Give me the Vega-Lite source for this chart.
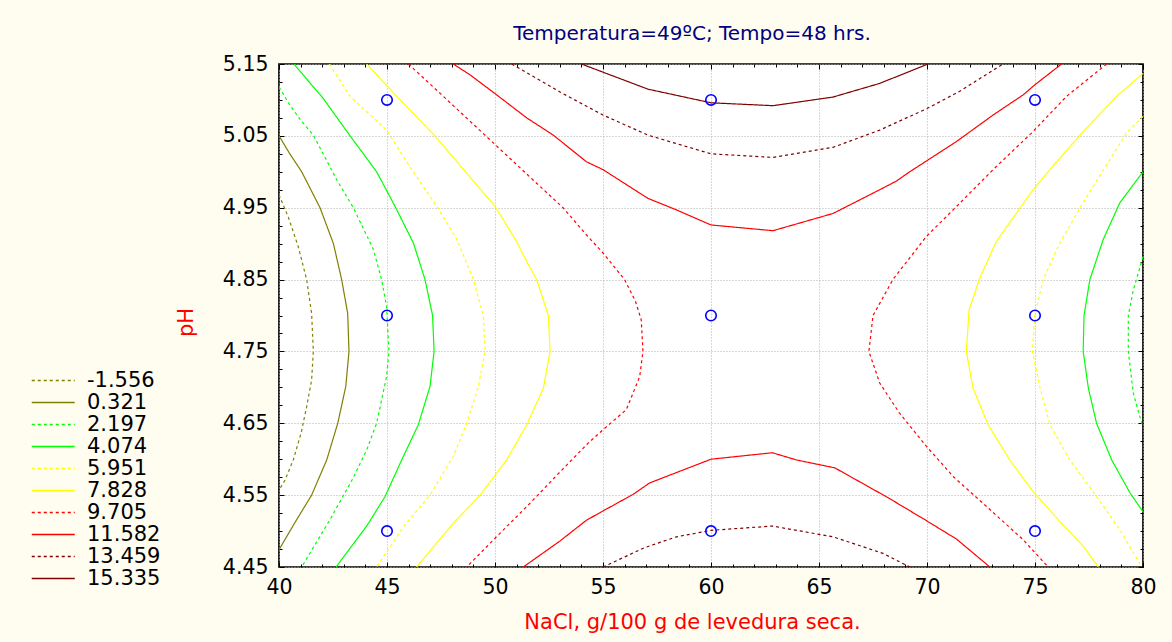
{
 "$schema": "https://vega.github.io/schema/vega-lite/v6.json",
 "width": 864, "height": 503,
 "autosize": {"type": "none"},
 "padding": {"left": 279, "top": 64, "right": 29, "bottom": 75},
 "background": "#fffdf0",
 "config": {
  "view": {"fill": "white", "stroke": "black", "strokeWidth": 1.7},
  "font": "DejaVu Sans",
  "axis": {"labelFont": "DejaVu Sans", "titleFont": "DejaVu Sans", "tickColor": "black", "tickWidth": 1, "labelColor": "black"}
 },
 "title": {"text": "Temperatura=49ºC; Tempo=48 hrs.", "color": "#000080", "font": "DejaVu Sans", "fontSize": 20, "fontWeight": "normal", "anchor": "middle", "dx": -19, "dy": 32, "offset": 26, "baseline": "alphabetic"},
 "datasets": {
  "pts": [
   {"x": 45, "y": 5.1}, {"x": 60, "y": 5.1}, {"x": 75, "y": 5.1},
   {"x": 45, "y": 4.8}, {"x": 60, "y": 4.8}, {"x": 75, "y": 4.8},
   {"x": 45, "y": 4.5}, {"x": 60, "y": 4.5}, {"x": 75, "y": 4.5}
  ],
  "contours": [
   {"c": "L1", "lv": "-1.556", "o": 1, "x": 40, "y": 4.968},
   {"c": "L1", "lv": "-1.556", "o": 2, "x": 40.43, "y": 4.937},
   {"c": "L1", "lv": "-1.556", "o": 3, "x": 40.89, "y": 4.896},
   {"c": "L1", "lv": "-1.556", "o": 4, "x": 41.28, "y": 4.85},
   {"c": "L1", "lv": "-1.556", "o": 5, "x": 41.51, "y": 4.803},
   {"c": "L1", "lv": "-1.556", "o": 6, "x": 41.59, "y": 4.75},
   {"c": "L1", "lv": "-1.556", "o": 7, "x": 41.51, "y": 4.71},
   {"c": "L1", "lv": "-1.556", "o": 8, "x": 41.28, "y": 4.673},
   {"c": "L1", "lv": "-1.556", "o": 9, "x": 41.02, "y": 4.636},
   {"c": "L1", "lv": "-1.556", "o": 10, "x": 40.66, "y": 4.599},
   {"c": "L1", "lv": "-1.556", "o": 11, "x": 40.28, "y": 4.571},
   {"c": "L1", "lv": "-1.556", "o": 12, "x": 40, "y": 4.557},

   {"c": "L2", "lv": "0.321", "o": 1, "x": 40, "y": 5.05},
   {"c": "L2", "lv": "0.321", "o": 2, "x": 40.5, "y": 5.025},
   {"c": "L2", "lv": "0.321", "o": 3, "x": 41.05, "y": 5.0},
   {"c": "L2", "lv": "0.321", "o": 4, "x": 41.9, "y": 4.95},
   {"c": "L2", "lv": "0.321", "o": 5, "x": 42.52, "y": 4.9},
   {"c": "L2", "lv": "0.321", "o": 6, "x": 42.9, "y": 4.85},
   {"c": "L2", "lv": "0.321", "o": 7, "x": 43.18, "y": 4.803},
   {"c": "L2", "lv": "0.321", "o": 8, "x": 43.24, "y": 4.75},
   {"c": "L2", "lv": "0.321", "o": 9, "x": 43.09, "y": 4.701},
   {"c": "L2", "lv": "0.321", "o": 10, "x": 42.72, "y": 4.65},
   {"c": "L2", "lv": "0.321", "o": 11, "x": 42.21, "y": 4.599},
   {"c": "L2", "lv": "0.321", "o": 12, "x": 41.51, "y": 4.55},
   {"c": "L2", "lv": "0.321", "o": 13, "x": 40.74, "y": 4.512},
   {"c": "L2", "lv": "0.321", "o": 14, "x": 40, "y": 4.474},

   {"c": "L3", "lv": "2.197", "o": 1, "x": 40, "y": 5.118},
   {"c": "L3", "lv": "2.197", "o": 2, "x": 40.5, "y": 5.093},
   {"c": "L3", "lv": "2.197", "o": 3, "x": 41.0, "y": 5.072},
   {"c": "L3", "lv": "2.197", "o": 4, "x": 41.59, "y": 5.051},
   {"c": "L3", "lv": "2.197", "o": 5, "x": 42.67, "y": 4.989},
   {"c": "L3", "lv": "2.197", "o": 6, "x": 43.44, "y": 4.95},
   {"c": "L3", "lv": "2.197", "o": 7, "x": 44.37, "y": 4.892},
   {"c": "L3", "lv": "2.197", "o": 8, "x": 44.75, "y": 4.85},
   {"c": "L3", "lv": "2.197", "o": 9, "x": 44.98, "y": 4.813},
   {"c": "L3", "lv": "2.197", "o": 10, "x": 45.09, "y": 4.75},
   {"c": "L3", "lv": "2.197", "o": 11, "x": 44.98, "y": 4.715},
   {"c": "L3", "lv": "2.197", "o": 12, "x": 44.52, "y": 4.65},
   {"c": "L3", "lv": "2.197", "o": 13, "x": 44.06, "y": 4.613},
   {"c": "L3", "lv": "2.197", "o": 14, "x": 43.4, "y": 4.572},
   {"c": "L3", "lv": "2.197", "o": 15, "x": 42.36, "y": 4.516},
   {"c": "L3", "lv": "2.197", "o": 16, "x": 41.05, "y": 4.45},

   {"c": "L4", "lv": "4.074", "o": 1, "x": 40.69, "y": 5.15},
   {"c": "L4", "lv": "4.074", "o": 2, "x": 42.05, "y": 5.102},
   {"c": "L4", "lv": "4.074", "o": 3, "x": 43.29, "y": 5.05},
   {"c": "L4", "lv": "4.074", "o": 4, "x": 44.52, "y": 5.0},
   {"c": "L4", "lv": "4.074", "o": 5, "x": 45.37, "y": 4.952},
   {"c": "L4", "lv": "4.074", "o": 6, "x": 46.22, "y": 4.901},
   {"c": "L4", "lv": "4.074", "o": 7, "x": 46.76, "y": 4.85},
   {"c": "L4", "lv": "4.074", "o": 8, "x": 47.11, "y": 4.8},
   {"c": "L4", "lv": "4.074", "o": 9, "x": 47.18, "y": 4.75},
   {"c": "L4", "lv": "4.074", "o": 10, "x": 46.99, "y": 4.701},
   {"c": "L4", "lv": "4.074", "o": 11, "x": 46.45, "y": 4.648},
   {"c": "L4", "lv": "4.074", "o": 12, "x": 45.68, "y": 4.599},
   {"c": "L4", "lv": "4.074", "o": 13, "x": 44.91, "y": 4.548},
   {"c": "L4", "lv": "4.074", "o": 14, "x": 44.06, "y": 4.507},
   {"c": "L4", "lv": "4.074", "o": 15, "x": 42.64, "y": 4.45},

   {"c": "L5", "lv": "5.951", "o": 1, "x": 42.33, "y": 5.15},
   {"c": "L5", "lv": "5.951", "o": 2, "x": 43.29, "y": 5.105},
   {"c": "L5", "lv": "5.951", "o": 3, "x": 44.98, "y": 5.058},
   {"c": "L5", "lv": "5.951", "o": 4, "x": 46.06, "y": 5.007},
   {"c": "L5", "lv": "5.951", "o": 5, "x": 47.3, "y": 4.952},
   {"c": "L5", "lv": "5.951", "o": 6, "x": 48.23, "y": 4.906},
   {"c": "L5", "lv": "5.951", "o": 7, "x": 49.0, "y": 4.85},
   {"c": "L5", "lv": "5.951", "o": 8, "x": 49.46, "y": 4.8},
   {"c": "L5", "lv": "5.951", "o": 9, "x": 49.54, "y": 4.75},
   {"c": "L5", "lv": "5.951", "o": 10, "x": 49.23, "y": 4.701},
   {"c": "L5", "lv": "5.951", "o": 11, "x": 48.69, "y": 4.65},
   {"c": "L5", "lv": "5.951", "o": 12, "x": 48.07, "y": 4.604},
   {"c": "L5", "lv": "5.951", "o": 13, "x": 46.99, "y": 4.55},
   {"c": "L5", "lv": "5.951", "o": 14, "x": 45.76, "y": 4.506},
   {"c": "L5", "lv": "5.951", "o": 15, "x": 44.52, "y": 4.45},

   {"c": "L6", "lv": "7.828", "o": 1, "x": 44.06, "y": 5.15},
   {"c": "L6", "lv": "7.828", "o": 2, "x": 45.45, "y": 5.105},
   {"c": "L6", "lv": "7.828", "o": 3, "x": 47.22, "y": 5.05},
   {"c": "L6", "lv": "7.828", "o": 4, "x": 48.69, "y": 4.998},
   {"c": "L6", "lv": "7.828", "o": 5, "x": 50.0, "y": 4.952},
   {"c": "L6", "lv": "7.828", "o": 6, "x": 51.0, "y": 4.903},
   {"c": "L6", "lv": "7.828", "o": 7, "x": 51.47, "y": 4.875},
   {"c": "L6", "lv": "7.828", "o": 8, "x": 51.93, "y": 4.85},
   {"c": "L6", "lv": "7.828", "o": 9, "x": 52.47, "y": 4.8},
   {"c": "L6", "lv": "7.828", "o": 10, "x": 52.55, "y": 4.75},
   {"c": "L6", "lv": "7.828", "o": 11, "x": 52.24, "y": 4.699},
   {"c": "L6", "lv": "7.828", "o": 12, "x": 51.47, "y": 4.648},
   {"c": "L6", "lv": "7.828", "o": 13, "x": 50.54, "y": 4.599},
   {"c": "L6", "lv": "7.828", "o": 14, "x": 49.31, "y": 4.55},
   {"c": "L6", "lv": "7.828", "o": 15, "x": 48.07, "y": 4.511},
   {"c": "L6", "lv": "7.828", "o": 16, "x": 46.37, "y": 4.45},

   {"c": "L7", "lv": "9.705", "o": 1, "x": 45.99, "y": 5.15},
   {"c": "L7", "lv": "9.705", "o": 2, "x": 47.5, "y": 5.108},
   {"c": "L7", "lv": "9.705", "o": 3, "x": 49.0, "y": 5.066},
   {"c": "L7", "lv": "9.705", "o": 4, "x": 50.5, "y": 5.024},
   {"c": "L7", "lv": "9.705", "o": 5, "x": 52.0, "y": 4.982},
   {"c": "L7", "lv": "9.705", "o": 6, "x": 53.15, "y": 4.95},
   {"c": "L7", "lv": "9.705", "o": 7, "x": 54.24, "y": 4.912},
   {"c": "L7", "lv": "9.705", "o": 8, "x": 55.0, "y": 4.887},
   {"c": "L7", "lv": "9.705", "o": 9, "x": 56.0, "y": 4.85},
   {"c": "L7", "lv": "9.705", "o": 10, "x": 56.5, "y": 4.82},
   {"c": "L7", "lv": "9.705", "o": 11, "x": 56.77, "y": 4.794},
   {"c": "L7", "lv": "9.705", "o": 12, "x": 56.85, "y": 4.75},
   {"c": "L7", "lv": "9.705", "o": 13, "x": 56.7, "y": 4.715},
   {"c": "L7", "lv": "9.705", "o": 14, "x": 56.08, "y": 4.669},
   {"c": "L7", "lv": "9.705", "o": 15, "x": 55.0, "y": 4.641},
   {"c": "L7", "lv": "9.705", "o": 16, "x": 54.3, "y": 4.622},
   {"c": "L7", "lv": "9.705", "o": 17, "x": 53.0, "y": 4.582},
   {"c": "L7", "lv": "9.705", "o": 18, "x": 51.5, "y": 4.535},
   {"c": "L7", "lv": "9.705", "o": 19, "x": 50.0, "y": 4.49},
   {"c": "L7", "lv": "9.705", "o": 20, "x": 48.69, "y": 4.45},

   {"c": "L8", "lv": "11.582", "o": 1, "x": 48.07, "y": 5.15},
   {"c": "L8", "lv": "11.582", "o": 2, "x": 48.84, "y": 5.135},
   {"c": "L8", "lv": "11.582", "o": 3, "x": 50.08, "y": 5.107},
   {"c": "L8", "lv": "11.582", "o": 4, "x": 51.47, "y": 5.075},
   {"c": "L8", "lv": "11.582", "o": 5, "x": 52.7, "y": 5.051},
   {"c": "L8", "lv": "11.582", "o": 6, "x": 54.23, "y": 5.014},
   {"c": "L8", "lv": "11.582", "o": 7, "x": 55.0, "y": 5.003},
   {"c": "L8", "lv": "11.582", "o": 8, "x": 57.08, "y": 4.963},
   {"c": "L8", "lv": "11.582", "o": 9, "x": 58.4, "y": 4.947},
   {"c": "L8", "lv": "11.582", "o": 10, "x": 60.0, "y": 4.926},
   {"c": "L8", "lv": "11.582", "o": 11, "x": 62.87, "y": 4.918},
   {"c": "L8", "lv": "11.582", "o": 12, "x": 65.65, "y": 4.942},
   {"c": "L8", "lv": "11.582", "o": 13, "x": 67.81, "y": 4.975},
   {"c": "L8", "lv": "11.582", "o": 14, "x": 68.58, "y": 4.987},
   {"c": "L8", "lv": "11.582", "o": 15, "x": 69.2, "y": 5.0},
   {"c": "L8", "lv": "11.582", "o": 16, "x": 71.36, "y": 5.042},
   {"c": "L8", "lv": "11.582", "o": 17, "x": 73.06, "y": 5.079},
   {"c": "L8", "lv": "11.582", "o": 18, "x": 74.45, "y": 5.107},
   {"c": "L8", "lv": "11.582", "o": 19, "x": 74.99, "y": 5.121},
   {"c": "L8", "lv": "11.582", "o": 20, "x": 76.23, "y": 5.15},

   {"c": "L9", "lv": "13.459", "o": 1, "x": 50.77, "y": 5.15},
   {"c": "L9", "lv": "13.459", "o": 2, "x": 51.93, "y": 5.13},
   {"c": "L9", "lv": "13.459", "o": 3, "x": 53.01, "y": 5.111},
   {"c": "L9", "lv": "13.459", "o": 4, "x": 55.0, "y": 5.079},
   {"c": "L9", "lv": "13.459", "o": 5, "x": 57.08, "y": 5.051},
   {"c": "L9", "lv": "13.459", "o": 6, "x": 60.0, "y": 5.025},
   {"c": "L9", "lv": "13.459", "o": 7, "x": 62.87, "y": 5.02},
   {"c": "L9", "lv": "13.459", "o": 8, "x": 65.65, "y": 5.034},
   {"c": "L9", "lv": "13.459", "o": 9, "x": 67.81, "y": 5.058},
   {"c": "L9", "lv": "13.459", "o": 10, "x": 70.0, "y": 5.088},
   {"c": "L9", "lv": "13.459", "o": 11, "x": 71.51, "y": 5.112},
   {"c": "L9", "lv": "13.459", "o": 12, "x": 73.52, "y": 5.15},

   {"c": "L10", "lv": "15.335", "o": 1, "x": 54.0, "y": 5.15},
   {"c": "L10", "lv": "15.335", "o": 2, "x": 57.08, "y": 5.115},
   {"c": "L10", "lv": "15.335", "o": 3, "x": 60.0, "y": 5.096},
   {"c": "L10", "lv": "15.335", "o": 4, "x": 62.87, "y": 5.092},
   {"c": "L10", "lv": "15.335", "o": 5, "x": 65.65, "y": 5.104},
   {"c": "L10", "lv": "15.335", "o": 6, "x": 67.81, "y": 5.123},
   {"c": "L10", "lv": "15.335", "o": 7, "x": 70.05, "y": 5.15},

   {"c": "L11", "lv": "11.582", "o": 1, "x": 51.31, "y": 4.45},
   {"c": "L11", "lv": "11.582", "o": 2, "x": 53.0, "y": 4.486},
   {"c": "L11", "lv": "11.582", "o": 3, "x": 54.23, "y": 4.515},
   {"c": "L11", "lv": "11.582", "o": 4, "x": 55.0, "y": 4.528},
   {"c": "L11", "lv": "11.582", "o": 5, "x": 56.39, "y": 4.551},
   {"c": "L11", "lv": "11.582", "o": 6, "x": 57.16, "y": 4.567},
   {"c": "L11", "lv": "11.582", "o": 7, "x": 60.0, "y": 4.6},
   {"c": "L11", "lv": "11.582", "o": 8, "x": 62.84, "y": 4.609},
   {"c": "L11", "lv": "11.582", "o": 9, "x": 63.95, "y": 4.599},
   {"c": "L11", "lv": "11.582", "o": 10, "x": 65.73, "y": 4.588},
   {"c": "L11", "lv": "11.582", "o": 11, "x": 67.81, "y": 4.553},
   {"c": "L11", "lv": "11.582", "o": 12, "x": 68.5, "y": 4.541},
   {"c": "L11", "lv": "11.582", "o": 13, "x": 70.0, "y": 4.514},
   {"c": "L11", "lv": "11.582", "o": 14, "x": 71.36, "y": 4.489},
   {"c": "L11", "lv": "11.582", "o": 15, "x": 72.91, "y": 4.45},

   {"c": "L12", "lv": "13.459", "o": 1, "x": 55.0, "y": 4.45},
   {"c": "L12", "lv": "13.459", "o": 2, "x": 56.93, "y": 4.477},
   {"c": "L12", "lv": "13.459", "o": 3, "x": 58.4, "y": 4.492},
   {"c": "L12", "lv": "13.459", "o": 4, "x": 60.0, "y": 4.501},
   {"c": "L12", "lv": "13.459", "o": 5, "x": 62.84, "y": 4.507},
   {"c": "L12", "lv": "13.459", "o": 6, "x": 65.65, "y": 4.492},
   {"c": "L12", "lv": "13.459", "o": 7, "x": 67.96, "y": 4.469},
   {"c": "L12", "lv": "13.459", "o": 8, "x": 69.2, "y": 4.45},

   {"c": "L13", "lv": "9.705", "o": 1, "x": 78.32, "y": 5.15},
   {"c": "L13", "lv": "9.705", "o": 2, "x": 76.46, "y": 5.105},
   {"c": "L13", "lv": "9.705", "o": 3, "x": 74.91, "y": 5.056},
   {"c": "L13", "lv": "9.705", "o": 4, "x": 73.06, "y": 5.003},
   {"c": "L13", "lv": "9.705", "o": 5, "x": 71.51, "y": 4.956},
   {"c": "L13", "lv": "9.705", "o": 6, "x": 69.97, "y": 4.91},
   {"c": "L13", "lv": "9.705", "o": 7, "x": 68.42, "y": 4.85},
   {"c": "L13", "lv": "9.705", "o": 8, "x": 67.5, "y": 4.8},
   {"c": "L13", "lv": "9.705", "o": 9, "x": 67.31, "y": 4.75},
   {"c": "L13", "lv": "9.705", "o": 10, "x": 67.81, "y": 4.706},
   {"c": "L13", "lv": "9.705", "o": 11, "x": 68.73, "y": 4.664},
   {"c": "L13", "lv": "9.705", "o": 12, "x": 69.97, "y": 4.618},
   {"c": "L13", "lv": "9.705", "o": 13, "x": 71.21, "y": 4.576},
   {"c": "L13", "lv": "9.705", "o": 14, "x": 72.91, "y": 4.53},
   {"c": "L13", "lv": "9.705", "o": 15, "x": 74.45, "y": 4.488},
   {"c": "L13", "lv": "9.705", "o": 16, "x": 75.61, "y": 4.45},

   {"c": "L14", "lv": "7.828", "o": 1, "x": 80, "y": 5.137},
   {"c": "L14", "lv": "7.828", "o": 2, "x": 78.78, "y": 5.105},
   {"c": "L14", "lv": "7.828", "o": 3, "x": 77.23, "y": 5.056},
   {"c": "L14", "lv": "7.828", "o": 4, "x": 75.69, "y": 5.003},
   {"c": "L14", "lv": "7.828", "o": 5, "x": 74.91, "y": 4.975},
   {"c": "L14", "lv": "7.828", "o": 6, "x": 73.21, "y": 4.903},
   {"c": "L14", "lv": "7.828", "o": 7, "x": 72.44, "y": 4.852},
   {"c": "L14", "lv": "7.828", "o": 8, "x": 71.95, "y": 4.808},
   {"c": "L14", "lv": "7.828", "o": 9, "x": 71.82, "y": 4.75},
   {"c": "L14", "lv": "7.828", "o": 10, "x": 72.13, "y": 4.699},
   {"c": "L14", "lv": "7.828", "o": 11, "x": 72.83, "y": 4.648},
   {"c": "L14", "lv": "7.828", "o": 12, "x": 73.83, "y": 4.599},
   {"c": "L14", "lv": "7.828", "o": 13, "x": 74.91, "y": 4.555},
   {"c": "L14", "lv": "7.828", "o": 14, "x": 76.07, "y": 4.516},
   {"c": "L14", "lv": "7.828", "o": 15, "x": 77.23, "y": 4.479},
   {"c": "L14", "lv": "7.828", "o": 16, "x": 77.93, "y": 4.45},

   {"c": "L15", "lv": "5.951", "o": 1, "x": 80, "y": 5.077},
   {"c": "L15", "lv": "5.951", "o": 2, "x": 79.24, "y": 5.054},
   {"c": "L15", "lv": "5.951", "o": 3, "x": 78.47, "y": 5.017},
   {"c": "L15", "lv": "5.951", "o": 4, "x": 77.23, "y": 4.957},
   {"c": "L15", "lv": "5.951", "o": 5, "x": 76.15, "y": 4.901},
   {"c": "L15", "lv": "5.951", "o": 6, "x": 75.38, "y": 4.85},
   {"c": "L15", "lv": "5.951", "o": 7, "x": 74.99, "y": 4.8},
   {"c": "L15", "lv": "5.951", "o": 8, "x": 74.88, "y": 4.75},
   {"c": "L15", "lv": "5.951", "o": 9, "x": 75.22, "y": 4.701},
   {"c": "L15", "lv": "5.951", "o": 10, "x": 75.69, "y": 4.648},
   {"c": "L15", "lv": "5.951", "o": 11, "x": 76.61, "y": 4.599},
   {"c": "L15", "lv": "5.951", "o": 12, "x": 77.85, "y": 4.548},
   {"c": "L15", "lv": "5.951", "o": 13, "x": 78.93, "y": 4.502},
   {"c": "L15", "lv": "5.951", "o": 14, "x": 79.94, "y": 4.45},

   {"c": "L16", "lv": "4.074", "o": 1, "x": 80, "y": 5.0},
   {"c": "L16", "lv": "4.074", "o": 2, "x": 78.93, "y": 4.957},
   {"c": "L16", "lv": "4.074", "o": 3, "x": 78.16, "y": 4.906},
   {"c": "L16", "lv": "4.074", "o": 4, "x": 77.54, "y": 4.85},
   {"c": "L16", "lv": "4.074", "o": 5, "x": 77.27, "y": 4.8},
   {"c": "L16", "lv": "4.074", "o": 6, "x": 77.23, "y": 4.75},
   {"c": "L16", "lv": "4.074", "o": 7, "x": 77.47, "y": 4.699},
   {"c": "L16", "lv": "4.074", "o": 8, "x": 77.85, "y": 4.65},
   {"c": "L16", "lv": "4.074", "o": 9, "x": 78.55, "y": 4.599},
   {"c": "L16", "lv": "4.074", "o": 10, "x": 79.4, "y": 4.553},
   {"c": "L16", "lv": "4.074", "o": 11, "x": 80, "y": 4.527},

   {"c": "L17", "lv": "2.197", "o": 1, "x": 80, "y": 4.882},
   {"c": "L17", "lv": "2.197", "o": 2, "x": 79.55, "y": 4.835},
   {"c": "L17", "lv": "2.197", "o": 3, "x": 79.32, "y": 4.8},
   {"c": "L17", "lv": "2.197", "o": 4, "x": 79.32, "y": 4.75},
   {"c": "L17", "lv": "2.197", "o": 5, "x": 79.55, "y": 4.692},
   {"c": "L17", "lv": "2.197", "o": 6, "x": 79.94, "y": 4.65},
   {"c": "L17", "lv": "2.197", "o": 7, "x": 80, "y": 4.645}
  ]
 },
 "layer": [
  {
   "data": {"name": "contours"},
   "mark": {"type": "line", "strokeWidth": 1.2, "clip": true},
   "encoding": {
    "x": {"field": "x", "type": "quantitative", "scale": {"domain": [40, 80], "nice": false, "zero": false},
      "axis": {"orient": "bottom", "values": [40, 45, 50, 55, 60, 65, 70, 75, 80], "format": "d", "grid": true, "gridColor": "#b0b0b0", "gridDash": [1, 2], "gridWidth": 1, "domain": false, "tickSize": -5, "labelFontSize": 20.5, "labelPadding": 15, "labelFlush": false, "labelOverlap": false,
        "title": "NaCl, g/100 g de levedura seca.", "titleColor": "#ff0000", "titleFontSize": 21, "titleFontWeight": "normal", "titleX": 413, "titleY": 55, "titleBaseline": "middle", "titleAlign": "center"}},
    "y": {"field": "y", "type": "quantitative", "scale": {"domain": [4.45, 5.15], "nice": false, "zero": false},
      "axis": {"orient": "left", "values": [4.45, 4.55, 4.65, 4.75, 4.85, 4.95, 5.05, 5.15], "format": ".2f", "grid": true, "gridColor": "#b0b0b0", "gridDash": [1, 2], "gridWidth": 1, "domain": false, "tickSize": -5, "labelFontSize": 20.5, "labelPadding": 16, "labelFlush": false, "labelOverlap": false,
        "title": "pH", "titleColor": "#ff0000", "titleFontSize": 21, "titleFontWeight": "normal", "titleX": -93, "titleY": 258, "titleBaseline": "middle", "titleAlign": "center"}},
    "detail": {"field": "c", "type": "nominal"},
    "order": {"field": "o", "type": "quantitative"},
    "color": {"field": "lv", "type": "nominal",
      "scale": {"domain": ["-1.556", "0.321", "2.197", "4.074", "5.951", "7.828", "9.705", "11.582", "13.459", "15.335"],
                "range": ["#808000", "#808000", "#00ff00", "#00ff00", "#ffff00", "#ffff00", "#ff0000", "#ff0000", "#800000", "#800000"]},
      "legend": {"title": null, "orient": "none", "legendX": -252, "legendY": 306, "symbolType": "M-1.15,0H7.45", "symbolSize": 100, "symbolStrokeWidth": 1.5, "labelFont": "DejaVu Sans", "labelFontSize": 21, "labelColor": "black", "labelOffset": 39, "rowPadding": 0, "padding": 0}},
    "strokeDash": {"field": "lv", "type": "nominal",
      "scale": {"domain": ["-1.556", "0.321", "2.197", "4.074", "5.951", "7.828", "9.705", "11.582", "13.459", "15.335"],
                "range": [[3, 3], [1, 0], [3, 3], [1, 0], [3, 3], [1, 0], [3, 3], [1, 0], [3, 3], [1, 0]]},
      "legend": {"title": null, "orient": "none", "legendX": -252, "legendY": 306, "symbolType": "M-1.15,0H7.45", "symbolSize": 100, "symbolStrokeWidth": 1.5, "labelFont": "DejaVu Sans", "labelFontSize": 21, "labelColor": "black", "labelOffset": 39, "rowPadding": 0, "padding": 0}}
   }
  },
  {
   "data": {"name": "pts"},
   "mark": {"type": "point", "shape": "circle", "filled": false, "color": "#0000ff", "strokeWidth": 1.6, "size": 110, "opacity": 1},
   "encoding": {
    "x": {"field": "x", "type": "quantitative", "scale": {"domain": [40, 80], "nice": false, "zero": false},
      "axis": {"orient": "bottom", "values": [41, 42, 43, 44, 46, 47, 48, 49, 51, 52, 53, 54, 56, 57, 58, 59, 61, 62, 63, 64, 66, 67, 68, 69, 71, 72, 73, 74, 76, 77, 78, 79], "grid": false, "domain": false, "labels": false, "tickSize": -3, "title": null}},
    "y": {"field": "y", "type": "quantitative", "scale": {"domain": [4.45, 5.15], "nice": false, "zero": false},
      "axis": {"orient": "left", "values": [4.475, 4.5, 4.525, 4.575, 4.6, 4.625, 4.675, 4.7, 4.725, 4.775, 4.8, 4.825, 4.875, 4.9, 4.925, 4.975, 5.0, 5.025, 5.075, 5.1, 5.125], "grid": false, "domain": false, "labels": false, "tickSize": -3, "title": null}}
   }
  },
  {
   "data": {"name": "pts"},
   "mark": {"type": "point", "opacity": 0},
   "encoding": {
    "x": {"field": "x", "type": "quantitative", "scale": {"domain": [40, 80], "nice": false, "zero": false},
      "axis": {"orient": "top", "values": [40, 45, 50, 55, 60, 65, 70, 75, 80], "grid": false, "domain": false, "labels": false, "tickSize": -5, "title": null}},
    "y": {"field": "y", "type": "quantitative", "scale": {"domain": [4.45, 5.15], "nice": false, "zero": false},
      "axis": {"orient": "right", "values": [4.45, 4.55, 4.65, 4.75, 4.85, 4.95, 5.05, 5.15], "grid": false, "domain": false, "labels": false, "tickSize": -5, "title": null}}
   }
  },
  {
   "data": {"name": "pts"},
   "mark": {"type": "point", "opacity": 0},
   "encoding": {
    "x": {"field": "x", "type": "quantitative", "scale": {"domain": [40, 80], "nice": false, "zero": false},
      "axis": {"orient": "top", "values": [41, 42, 43, 44, 46, 47, 48, 49, 51, 52, 53, 54, 56, 57, 58, 59, 61, 62, 63, 64, 66, 67, 68, 69, 71, 72, 73, 74, 76, 77, 78, 79], "grid": false, "domain": false, "labels": false, "tickSize": -3, "title": null}},
    "y": {"field": "y", "type": "quantitative", "scale": {"domain": [4.45, 5.15], "nice": false, "zero": false},
      "axis": {"orient": "right", "values": [4.475, 4.5, 4.525, 4.575, 4.6, 4.625, 4.675, 4.7, 4.725, 4.775, 4.8, 4.825, 4.875, 4.9, 4.925, 4.975, 5.0, 5.025, 5.075, 5.1, 5.125], "grid": false, "domain": false, "labels": false, "tickSize": -3, "title": null}}
   }
  }
 ],
 "resolve": {"axis": {"x": "independent", "y": "independent"}}
}
